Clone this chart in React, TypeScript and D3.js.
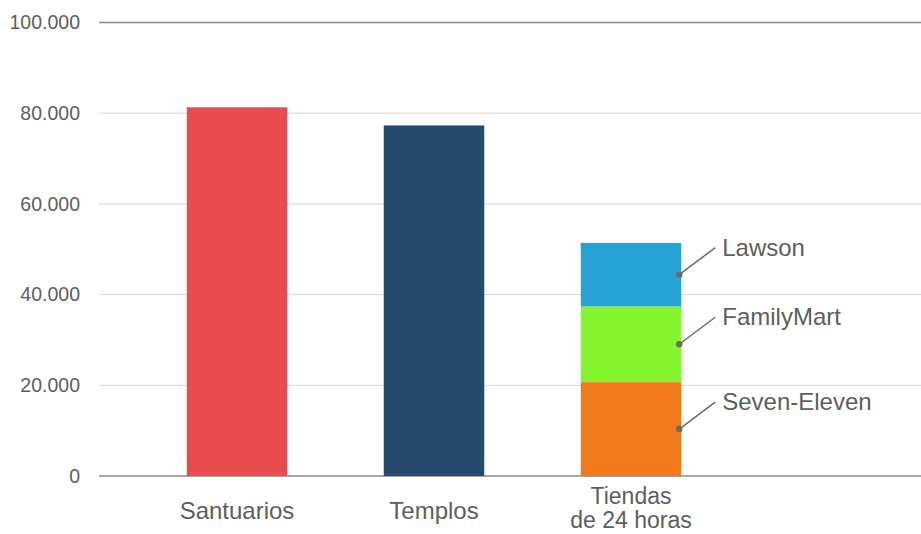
import { useEffect, useRef } from 'react'
import * as d3 from 'd3'

const categories = ['Santuarios', 'Templos', 'Tiendas\nde 24 horas']
const singleValues = [81300, 77300]
const storeNames = ['Seven-Eleven', 'FamilyMart', 'Lawson']
const storeValues = [20700, 16700, 14000]
const singleColors = ['#e84c4d', '#254a6e']
const storeColors = ['#f17a1b', '#84f52c', '#25a3d4']
const yTicks = [0, 20000, 40000, 60000, 80000, 100000]

const App = () => {
  const ref = useRef<SVGSVGElement>(null)

  useEffect(() => {
    if (!ref.current) return
    const width = 921
    const height = 534
    const svg = d3.select(ref.current)
    svg.selectAll('*').remove()

    const gridLeft = 99
    const y = d3.scaleLinear().domain([0, 100000]).range([476, 22.5])
    const x = d3.scaleBand<string>()
      .domain(categories)
      .range([138.5, 729.5])
      .paddingInner(0.49)
      .paddingOuter(0.245)

    const fmt = d3.formatLocale({ decimal: ',', thousands: '.', grouping: [3], currency: ['', '€'] }).format(',d')
    const font = 'Helvetica, Arial, "Liberation Sans", sans-serif'

    // Grid
    svg.selectAll('.grid')
      .data(yTicks)
      .enter()
      .append('line')
      .attr('x1', gridLeft)
      .attr('x2', width)
      .attr('y1', d => y(d))
      .attr('y2', d => y(d))
      .attr('stroke', d => (d === 0 || d === 100000) ? '#888' : '#d4d4d4')
      .attr('stroke-width', d => (d === 0 || d === 100000) ? 1.5 : 1)

    svg.selectAll('.tick-label')
      .data(yTicks)
      .enter()
      .append('text')
      .attr('x', 80)
      .attr('y', d => y(d))
      .attr('dy', '0.35em')
      .attr('text-anchor', 'end')
      .attr('fill', '#5e5e5e')
      .style('font-family', font)
      .style('font-size', '19.5px')
      .text(d => fmt(d))

    // Simple bars
    svg.selectAll('.bar')
      .data(singleValues)
      .enter()
      .append('rect')
      .attr('x', (_, i) => x(categories[i]) || 0)
      .attr('y', d => y(d))
      .attr('width', x.bandwidth())
      .attr('height', d => y(0) - y(d))
      .attr('fill', (_, i) => singleColors[i])

    // Stacked bar
    const stacked = d3.cumsum(storeValues)
    const cat = categories[2]
    const bx = x(cat) || 0
    storeValues.forEach((v, i) => {
      const top = stacked[i]
      const bottom = top - v
      svg.append('rect')
        .attr('x', bx)
        .attr('y', y(top))
        .attr('width', x.bandwidth())
        .attr('height', y(bottom) - y(top))
        .attr('fill', storeColors[i])

      // Callout
      const dotX = bx + x.bandwidth() - 2
      const dotY = y(bottom + v * 0.5)
      svg.append('line')
        .attr('x1', dotX)
        .attr('y1', dotY)
        .attr('x2', dotX + 36)
        .attr('y2', dotY - 27)
        .attr('stroke', '#6a6a6a')
        .attr('stroke-width', 1.5)
      svg.append('circle')
        .attr('cx', dotX)
        .attr('cy', dotY)
        .attr('r', 3.2)
        .attr('fill', '#6a6a6a')
      svg.append('text')
        .attr('x', dotX + 43)
        .attr('y', dotY - 19)
        .attr('fill', '#5e5e5e')
        .style('font-family', font)
        .style('font-size', '24px')
        .text(storeNames[i])
    })

    // Category labels
    categories.forEach(c => {
      const lines = c.split('\n')
      const cx = (x(c) || 0) + x.bandwidth() / 2
      const t = svg.append('text')
        .attr('text-anchor', 'middle')
        .attr('fill', '#5e5e5e')
        .style('font-family', font)
        .style('font-size', lines.length === 1 ? '24px' : '23px')
      lines.forEach((l, j) => {
        t.append('tspan')
          .attr('x', cx)
          .attr('y', lines.length === 1 ? 519 : 504 + j * 24)
          .text(l)
      })
    })

    svg.attr('width', width).attr('height', height)
  }, [])

  return (
    <svg
      ref={ref}
      width={921}
      height={534}
      style={{ position: 'absolute', left: 0, top: 0, background: '#fff' }}
    />
  )
}

export default App
